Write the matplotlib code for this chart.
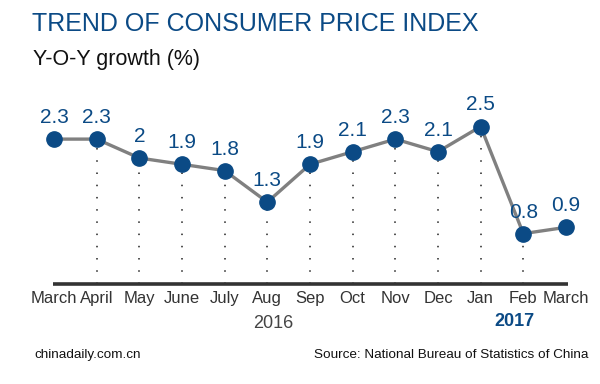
import numpy as np
import matplotlib.pyplot as plt

plt.rcParams['font.family'] = ['Liberation Sans', 'DejaVu Sans']

# Data
months = ["March", "April", "May", "June", "July", "Aug", "Sep",
          "Oct", "Nov", "Dec", "Jan", "Feb", "March"]
cpi = [2.3, 2.3, 2.0, 1.9, 1.8, 1.3, 1.9, 2.1, 2.3, 2.1, 2.5, 0.8, 0.9]
value_labels = ["2.3", "2.3", "2", "1.9", "1.8", "1.3", "1.9",
                "2.1", "2.3", "2.1", "2.5", "0.8", "0.9"]

navy = "#0b4a85"
x = np.arange(len(months))

fig = plt.figure(figsize=(6, 3.84), dpi=100)
ax = fig.add_axes([0, 0, 1, 1])
ax.set_xlim(-1.266, 12.797)
ax.set_ylim(-1.587, 4.508)
ax.axis("off")

# dotted guides from point to axis (not on first and last month)
for i in range(1, len(x) - 1):
    ax.plot([x[i], x[i]], [0, cpi[i]], color="#222222", lw=1.1,
            linestyle=(0, (1, 7)), zorder=1)

# baseline
ax.plot([-0.03, 12.05], [0, 0], color="#333333", lw=2.6,
        solid_capstyle="butt", zorder=2)

# line + markers
ax.plot(x, cpi, color="#808080", lw=2.4, zorder=3)
ax.plot(x, cpi, "o", color=navy, markersize=11, zorder=4)

for xi, v, lab in zip(x, cpi, value_labels):
    ax.text(xi, v + 0.255, lab, ha="center", va="baseline",
            fontsize=15, color=navy)

for xi, m in zip(x, months):
    ax.text(xi, -0.30, m, ha="center", va="baseline", fontsize=12,
            color="#333333")

ax.text(5.13, -0.70, "2016", ha="center", va="baseline", fontsize=13,
        color="#444444")
ax.text(10.8, -0.667, "2017", ha="center", va="baseline", fontsize=13,
        color=navy, fontweight="bold")

# titles and footer
fig.text(0.054, 0.919, "TREND OF CONSUMER PRICE INDEX", ha="left",
         va="baseline", fontsize=18, color=navy)
fig.text(0.055, 0.831, "Y-O-Y growth (%)", ha="left", va="baseline",
         fontsize=15.5, color="#111111")
fig.text(0.057, 0.076, "chinadaily.com.cn", ha="left", va="center",
         fontsize=9.7, color="#111111")
fig.text(0.98, 0.076, "Source: National Bureau of Statistics of China",
         ha="right", va="center", fontsize=9.7, color="#111111")

fig.savefig("out.png", dpi=100)
